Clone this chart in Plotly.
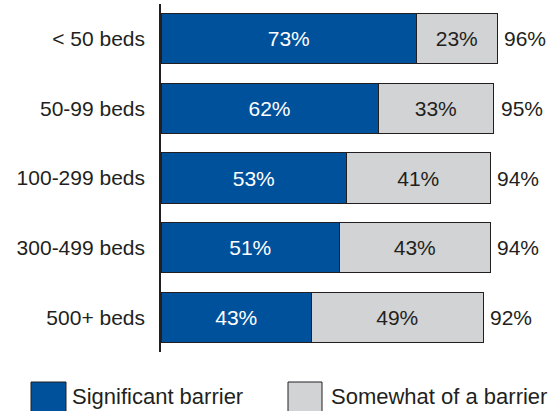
import plotly.graph_objects as go

categories = ["< 50 beds", "50-99 beds", "100-299 beds", "300-499 beds", "500+ beds"]
significant = [73, 62, 53, 51, 43]
somewhat = [23, 33, 41, 43, 49]
totals = [96, 95, 94, 94, 92]
series_names = ["Significant barrier", "Somewhat of a barrier"]

BLUE = "#00519c"
GRAY = "#d1d3d4"
EDGE = "#231f20"
TXT = "#231f20"
FONT = "Liberation Sans, Arial, sans-serif"
FS = 21

fig = go.Figure()
fig.add_trace(go.Bar(
    y=categories, x=significant, orientation="h", name=series_names[0],
    marker=dict(color=BLUE, line=dict(color=EDGE, width=1)),
    text=[f"{v}%" for v in significant], textposition="inside",
    insidetextanchor="middle", textfont=dict(color="white", size=FS, family=FONT),
    width=0.72, showlegend=False,
))
fig.add_trace(go.Bar(
    y=categories, x=somewhat, orientation="h", name=series_names[1],
    marker=dict(color=GRAY, line=dict(color=EDGE, width=1)),
    text=[f"{v}%" for v in somewhat], textposition="inside",
    insidetextanchor="middle", textfont=dict(color=TXT, size=FS, family=FONT),
    width=0.72, showlegend=False,
))

for c, t in zip(categories, totals):
    fig.add_annotation(x=t, y=c, text=f"{t}%", showarrow=False, xanchor="left",
                       xshift=5, font=dict(size=FS, color=TXT, family=FONT))

# custom legend
def px_x(p):
    return (p - 161) / 350.0

def px_y(p):
    return (352 - p) / 348.0

legend_items = [(31, 66, 70, BLUE, series_names[0]), (288, 322, 329, GRAY, series_names[1])]
for x0, x1, tx, col, name in legend_items:
    fig.add_shape(type="rect", xref="paper", yref="paper",
                  x0=px_x(x0), x1=px_x(x1), y0=px_y(382), y1=px_y(414),
                  fillcolor=col, line=dict(color=EDGE, width=1))
    fig.add_annotation(xref="paper", yref="paper", x=px_x(tx), y=px_y(396),
                       text=name, showarrow=False, xanchor="left", yanchor="middle",
                       font=dict(size=22, color=TXT, family=FONT))

fig.update_layout(
    barmode="stack",
    width=558, height=411,
    margin=dict(l=161, r=47, t=4, b=59, autoexpand=False),
    plot_bgcolor="white", paper_bgcolor="white",
    font=dict(family=FONT, size=FS, color=TXT),
    uniformtext=dict(minsize=FS, mode="show"),
)
fig.update_xaxes(range=[0, 100], visible=False, showgrid=False, zeroline=False,
                 automargin=False)
fig.update_yaxes(autorange="reversed", showgrid=False, zeroline=False,
                 showline=True, linecolor=EDGE, linewidth=1.5, automargin=False,
                 ticks="outside", ticklen=10, tickcolor="rgba(0,0,0,0)",
                 tickfont=dict(size=FS, color=TXT, family=FONT))

fig.write_html("out.html", config={"displayModeBar": False},
               post_script="document.body.style.margin='0px';")
